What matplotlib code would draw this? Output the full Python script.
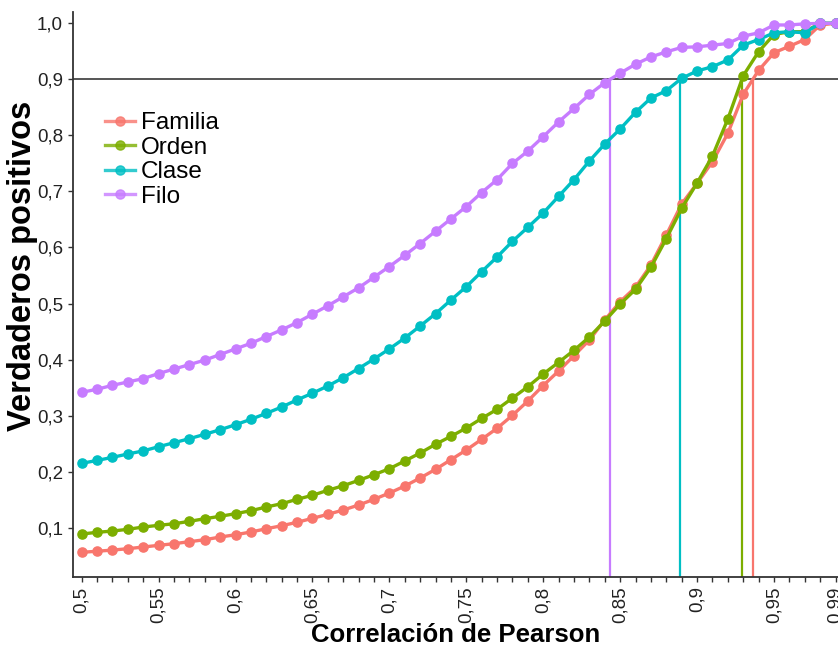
import numpy as np
import matplotlib
matplotlib.use("Agg")
import matplotlib.pyplot as plt

plt.rcParams['font.family'] = ['Liberation Sans', 'DejaVu Sans']

# Pearson correlation thresholds (0.50 .. 0.99)
correlacion = np.round(np.arange(0.50, 0.995, 0.01), 2)

familia = [0.056, 0.058, 0.060, 0.0625, 0.0655, 0.0685, 0.0714, 0.075, 0.0785, 0.0833,
           0.0874, 0.0923, 0.0981, 0.1035, 0.1096, 0.1167, 0.1238, 0.1315, 0.1404, 0.1506,
           0.1618, 0.1743, 0.1886, 0.2041, 0.2213, 0.2386, 0.2577, 0.2773, 0.3005, 0.326,
           0.3537, 0.3795, 0.4069, 0.4349, 0.4706, 0.5032, 0.529, 0.5687, 0.6222, 0.6776,
           0.7145, 0.753, 0.8037, 0.8733, 0.9160, 0.9475, 0.959, 0.971, 0.997, 1.0]

orden = [0.0887, 0.0917, 0.094, 0.0971, 0.1012, 0.1042, 0.107, 0.1113, 0.116, 0.1203,
         0.125, 0.1303, 0.1369, 0.1428, 0.1506, 0.1578, 0.1667, 0.1749, 0.1844, 0.1945,
         0.2052, 0.219, 0.2332, 0.2488, 0.263, 0.2778, 0.295, 0.3112, 0.3313, 0.3515,
         0.3742, 0.395, 0.4165, 0.4402, 0.4688, 0.499, 0.5253, 0.5646, 0.6157, 0.6699,
         0.715, 0.7632, 0.8292, 0.9065, 0.9493, 0.980, 0.985, 0.985, 1.0, 1.0]

clase = [0.2148, 0.220, 0.2255, 0.2315, 0.237, 0.2445, 0.2516, 0.2588, 0.2666, 0.2748,
         0.2837, 0.2934, 0.304, 0.3153, 0.328, 0.340, 0.3528, 0.3676, 0.384, 0.401,
         0.419, 0.4384, 0.4598, 0.4818, 0.5062, 0.530, 0.5568, 0.583, 0.611, 0.636,
         0.6615, 0.6912, 0.721, 0.7543, 0.7846, 0.8114, 0.8412, 0.8667, 0.8797, 0.9019,
         0.9149, 0.9226, 0.9345, 0.961, 0.971, 0.983, 0.985, 0.983, 1.0, 1.0]

filo = [0.3415, 0.347, 0.354, 0.360, 0.366, 0.375, 0.383, 0.391, 0.399, 0.409,
        0.419, 0.429, 0.441, 0.453, 0.466, 0.481, 0.496, 0.512, 0.528, 0.547,
        0.566, 0.586, 0.607, 0.629, 0.651, 0.673, 0.698, 0.721, 0.750, 0.772,
        0.7977, 0.824, 0.848, 0.873, 0.894, 0.911, 0.927, 0.940, 0.949, 0.957,
        0.958, 0.961, 0.964, 0.977, 0.983, 0.997, 0.997, 0.999, 1.0, 1.0]

series = [("Familia", familia, "#F8766D"),
          ("Orden", orden, "#7CAE00"),
          ("Clase", clase, "#00BFC4"),
          ("Filo", filo, "#C77CFF")]

umbral = 0.9
x_ticks_lab = [0.5, 0.55, 0.6, 0.65, 0.7, 0.75, 0.8, 0.85, 0.9, 0.95, 0.99]
y_ticks = [0.1, 0.2, 0.3, 0.4, 0.5, 0.6, 0.7, 0.8, 0.9, 1.0]

fig = plt.figure(figsize=(8.38, 6.48), dpi=100)
ax = fig.add_axes([0.0868, 0.110, 0.9132, 0.871])
ax.set_xlim(0.4942, 0.9916)
ax.set_ylim(0.0125, 1.0196)

# reference line at the 0.9 level
ax.axhline(umbral, color="#555555", lw=1.4, zorder=1)

# vertical lines where each curve reaches the 0.9 level
ymin = ax.get_ylim()[0]
for name, vals, col in series:
    xc = float(np.interp(umbral, vals, correlacion))
    ax.plot([xc, xc], [ymin, umbral], color=col, lw=1.6, zorder=1)

for name, vals, col in series:
    ax.plot(correlacion, vals, color=col, lw=2.4, marker="o", ms=6.6,
            label=name, zorder=3, clip_on=False)

for s in ("top", "right"):
    ax.spines[s].set_visible(False)
for s in ("left", "bottom"):
    ax.spines[s].set_color("#333333")
    ax.spines[s].set_linewidth(1.3)

ax.set_xticks(correlacion)
ax.set_xticklabels([(f"{v:g}".replace(".", ",") if any(abs(v - t) < 1e-9 for t in x_ticks_lab) else "")
                    for v in correlacion], rotation=90)
ax.set_yticks(y_ticks)
ax.set_yticklabels([f"{v:.1f}".replace(".", ",") for v in y_ticks])
ax.tick_params(axis="both", colors="#333333", labelcolor="#222222", labelsize=13.5, length=3.5, width=1)

ax.set_xlabel("Correlación de Pearson", fontsize=18.5, fontweight="bold", labelpad=0)
ax.set_ylabel("Verdaderos positivos", fontsize=23.5, fontweight="bold")
ax.yaxis.set_label_coords(-0.045, 0.55)

leg = ax.legend(loc="upper left", bbox_to_anchor=(0.03, 0.84), frameon=False,
                fontsize=17.5, handlelength=1.2, handletextpad=0.25, labelspacing=0.1,
                borderaxespad=0)
for h in leg.legend_handles:
    h.set_alpha(0.8)

fig.savefig("out.png", dpi=100)
